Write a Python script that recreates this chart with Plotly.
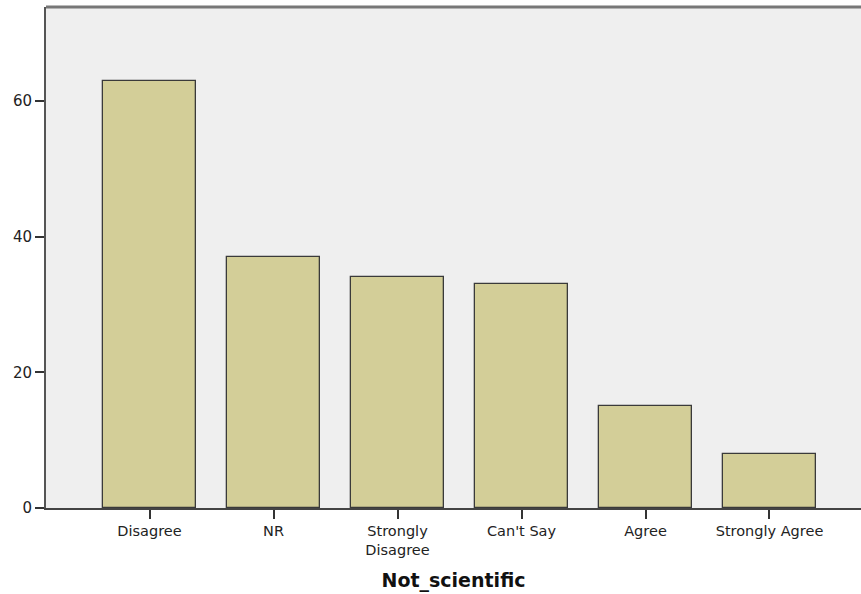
import plotly.graph_objects as go

categories = ["Disagree", "NR", "Strongly<br>Disagree", "Can't Say", "Agree", "Strongly Agree"]
counts = [63, 37, 34, 33, 15, 8]
y_ticks = [0, 20, 40, 60]

fig = go.Figure(go.Bar(
    x=list(range(len(categories))),
    y=counts,
    width=0.75,
    marker=dict(color="#d3ce98", line=dict(color="#3a3a3a", width=1.3)),
    hoverinfo="skip",
))

fig.update_layout(
    width=861, height=594,
    margin=dict(l=46, r=0, t=7, b=86),
    paper_bgcolor="white",
    plot_bgcolor="#efefef",
    font=dict(family="DejaVu Sans, Verdana, sans-serif", size=14.5, color="#222222"),
    showlegend=False,
    bargap=0,
)
fig.update_xaxes(
    range=[-0.835, 5.738],
    tickvals=list(range(len(categories))),
    ticktext=categories,
    ticks="outside", ticklen=9, tickwidth=2, tickcolor="#333333",
    showline=True, linecolor="#444444", linewidth=2,
    showgrid=False, zeroline=False,
    tickfont=dict(size=14.5),
    title=dict(text="<b>Not_scientific</b>", font=dict(size=19, color="#111111"), standoff=16),
)
fig.update_yaxes(
    range=[0, 73.86],
    tickvals=y_ticks,
    ticks="outside", ticklen=9, tickwidth=2, tickcolor="#333333",
    showline=True, linecolor="#555555", linewidth=2,
    showgrid=False, zeroline=False,
    tickfont=dict(size=15),
)
fig.add_shape(type="line", xref="paper", yref="paper", x0=0, x1=1, y0=1, y1=1,
              line=dict(color="#777777", width=3))

fig.write_html(
    "out.html",
    config={"displayModeBar": False},
    post_script="document.body.style.margin='0';document.body.style.overflow='hidden';",
)
